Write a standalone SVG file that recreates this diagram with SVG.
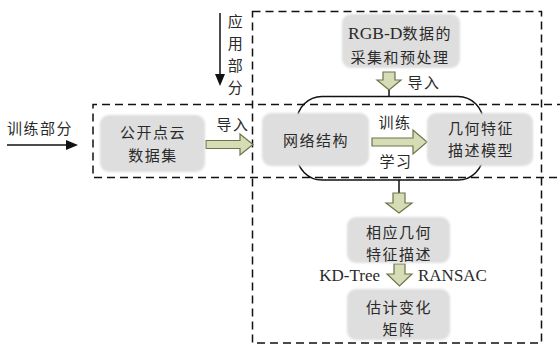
<svg xmlns="http://www.w3.org/2000/svg" width="560" height="345" viewBox="0 0 560 345">
<defs>
<filter id="soft" x="-10%" y="-10%" width="120%" height="120%"><feGaussianBlur stdDeviation="1.3"/></filter>
</defs>
<style>
.dash{fill:none;stroke:#111;stroke-width:1.5;stroke-dasharray:8 5}
.ring{fill:none;stroke:#111;stroke-width:1.5}
.box{fill:#dedede;filter:url(#soft)}
.fat{fill:#d5dcb6;stroke:#6d7548;stroke-width:1.2;stroke-linejoin:miter}
.t{font-family:"Noto Sans CJK SC","Noto Sans",sans-serif;font-size:15px;fill:#2a2a2a;text-anchor:middle;letter-spacing:1.5px}
.l{font-family:"Liberation Serif","Noto Sans CJK SC",serif;font-size:17px;fill:#2a2a2a}
.blk{stroke:#111;stroke-width:1.5;fill:none}
.head{fill:#111}
</style>
<g id="regions">
<rect class="dash" x="252.5" y="11.5" width="289" height="331.5"/>
<path class="dash" d="M565 104.5H93V177.5H565"/>
<rect class="ring" x="297" y="96.5" width="186" height="83.5" rx="25"/>
</g>
<g id="connectors">
<line class="blk" x1="7" y1="145" x2="67" y2="145"/>
<polygon class="head" points="66,140 78,145 66,150"/>
<line class="blk" x1="220" y1="13" x2="220" y2="75"/>
<polygon class="head" points="215,74 225,74 220,86"/>
<polygon class="fat" points="206,140.5 240,140.5 240,134 253,144.5 240,155 240,148.5 206,148.5"/>
<polygon class="fat" points="372,138 413,138 413,130 427,142 413,154 413,146 372,146"/>
<polygon class="fat" points="383,72 395,72 395,80 401,80 389,90 377,80 383,80"/>
<line class="blk" x1="389" y1="90" x2="389" y2="96.5"/>
<line class="blk" x1="399" y1="180" x2="399" y2="193"/>
<polygon class="fat" points="393,193 405,193 405,203 412,203 399,213 386,203 393,203"/>
<polygon class="fat" points="394,264 405,264 405,274 412,274 399.5,286 387,274 394,274"/>
</g>
<g id="labels">
<text class="t" x="40" y="134">训练部分</text>
<text class="t" x="236" y="27">应</text>
<text class="t" x="236" y="49">用</text>
<text class="t" x="236" y="71">部</text>
<text class="t" x="236" y="93">分</text>
<text class="t" x="233" y="130">导入</text>
<text class="t" x="424" y="88">导入</text>
<text class="t" x="395" y="128">训练</text>
<text class="t" x="396" y="167">学习</text>
<text class="l" x="380" y="281" text-anchor="end">KD-Tree</text>
<text class="l" x="418" y="281">RANSAC</text>
</g>
<g id="n-public">
<rect class="box" x="100" y="115" width="105" height="57" rx="9"/>
<text class="t" x="153" y="138">公开点云</text>
<text class="t" x="153" y="161">数据集</text>
</g>
<g id="n-network">
<rect class="box" x="262" y="113" width="107" height="53" rx="9"/>
<text class="t" x="316" y="146">网络结构</text>
</g>
<g id="n-model">
<rect class="box" x="427" y="113" width="106" height="53" rx="9"/>
<text class="t" x="481" y="134">几何特征</text>
<text class="t" x="481" y="156">描述模型</text>
</g>
<g id="n-rgbd">
<rect class="box" x="342" y="14" width="118" height="54" rx="9"/>
<text x="400" y="39" text-anchor="middle"><tspan class="l" style="font-size:17.5px">RGB-D</tspan><tspan class="t" style="text-anchor:start">数据的</tspan></text>
<text class="t" x="400" y="63">采集和预处理</text>
</g>
<g id="n-desc">
<rect class="box" x="347" y="217" width="103" height="46" rx="9"/>
<text class="t" x="399" y="237.5">相应几何</text>
<text class="t" x="399" y="259.5">特征描述</text>
</g>
<g id="n-matrix">
<rect class="box" x="347" y="289" width="103" height="51" rx="9"/>
<text class="t" x="399" y="312.5">估计变化</text>
<text class="t" x="399" y="334.5">矩阵</text>
</g>
</svg>
